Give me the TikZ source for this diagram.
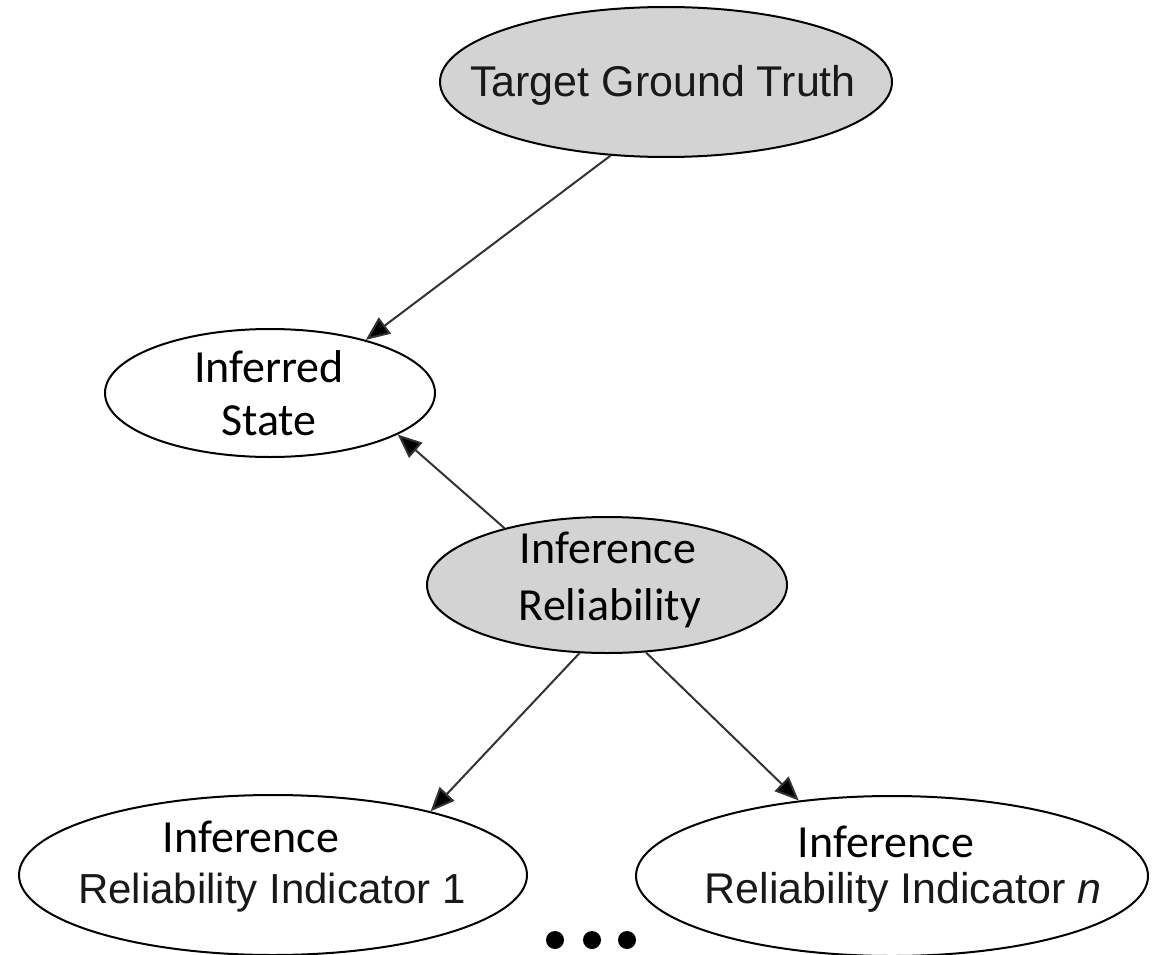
\documentclass[tikz,border=0pt]{standalone}
\usepackage{fontspec}
\setmainfont{Carlito}
\newfontfamily\arialfont{Liberation Sans}
\usetikzlibrary{shapes.geometric,arrows.meta}

\definecolor{nodegray}{RGB}{211,211,211}
\definecolor{txtdark}{RGB}{25,25,25}

\tikzset{
  oval/.style={ellipse, draw=black, line width=2pt, inner sep=0pt},
  shaded/.style={oval, fill=nodegray},
  plain/.style={oval, fill=white},
  calib/.style={anchor=base, inner sep=0pt, font=\fontsize{46}{50}\selectfont, text=black},
  arialtxt/.style={anchor=base, inner sep=0pt, text=txtdark},
  link/.style={line width=2pt, draw=black!80, -{Triangle[length=24pt,width=20pt,fill=black]}},
}

\begin{document}
\begin{tikzpicture}[x=1pt,y=-1pt]
  \useasboundingbox (0,0) rectangle (1153,955);

  % ellipses
  \node[shaded, minimum width=452pt, minimum height=150pt] (truth) at (666,82) {};
  \node[plain,  minimum width=330pt, minimum height=128pt] (state) at (270,393) {};
  \node[shaded, minimum width=360pt, minimum height=136pt] (rel)   at (607,585) {};
  \node[plain,  minimum width=508pt, minimum height=160pt] (ind1)  at (273,875) {};
  \node[plain,  minimum width=512pt, minimum height=160pt] (indn)  at (892,876) {};

  % labels
  \node[arialtxt, font=\arialfont\fontsize{43}{48}\selectfont] (truthtxt) at (663,97) {Target Ground Truth};
  \node[calib] (statetxta) at (269,382) {Inferred};
  \node[calib] (statetxtb) at (269,435) {State};
  \node[calib] (reltxta) at (608,563) {Inference};
  \node[calib] (reltxtb) at (610,620) {Reliability};
  \node[calib] (ind1txta) at (251,852) {Inference};
  \node[arialtxt, font=\arialfont\fontsize{42}{46}\selectfont] (ind1txtb) at (272,903) {Reliability Indicator 1};
  \node[calib] (indntxta) at (886,857) {Inference};
  \node[arialtxt, font=\arialfont\fontsize{43}{47}\selectfont] (indntxtb) at (903,903) {Reliability Indicator \textit{n}};

  % dependencies
  \draw[link] (truth.233) -- (state.29);
  \draw[link] (rel.151) -- (state.342);
  \draw[link] (rel.248) -- (ind1.22);
  \draw[link] (rel.300) -- (indn.141);

  % ellipsis between the indicators
  \foreach \dx in {555,592,627}
    \fill[black] (\dx,940) circle (9pt);
\end{tikzpicture}
\end{document}
